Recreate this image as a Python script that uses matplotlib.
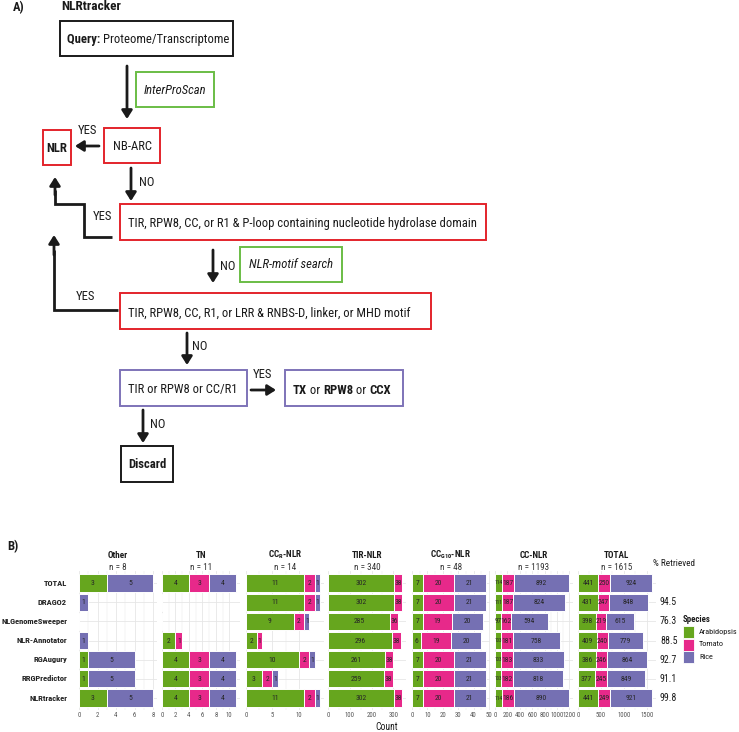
import matplotlib
matplotlib.use('Agg')
import matplotlib.pyplot as plt
from matplotlib.patches import Rectangle
from matplotlib import font_manager as fm
import numpy as np

available = {f.name for f in fm.fontManager.ttflist}
FONT = 'Liberation Sans'
for cand in ['Liberation Sans Narrow', 'Arial Narrow', 'Roboto Condensed', 'DejaVu Sans Condensed',
             'Open Sans Condensed', 'Liberation Sans']:
    if cand in available:
        FONT = cand
        break
plt.rcParams['font.family'] = [FONT, 'DejaVu Sans']
plt.rcParams['mathtext.fontset'] = 'custom'
plt.rcParams['mathtext.rm'] = FONT
plt.rcParams['mathtext.bf'] = FONT + ':bold'

# ---------------- data ----------------
tools = ['TOTAL', 'DRAGO2', 'NLGenomeSweeper', 'NLR-Annotator', 'RGAugury', 'RRGPredictor', 'NLRtracker']
species = ['Arabidopsis', 'Tomato', 'Rice']
species_colors = ['#66a61e', '#e7298a', '#7570b3']
class_labels = ['Other', 'TN', r'CC$_\mathbf{R}$-NLR', 'TIR-NLR', r'CC$_\mathbf{G10}$-NLR', 'CC-NLR', 'TOTAL']
class_n = [8, 11, 14, 340, 48, 1193, 1615]

# rows: tools ; columns: Arabidopsis, Tomato, Rice
other = [[3, 0, 5], [0, 0, 1], [0, 0, 0], [0, 0, 1], [1, 0, 5], [1, 0, 5], [3, 0, 5]]
tn = [[4, 3, 4], [0, 0, 0], [0, 0, 0], [2, 1, 0], [4, 3, 4], [4, 3, 4], [4, 3, 4]]
cc_r = [[11, 2, 1], [11, 2, 1], [9, 2, 1], [2, 1, 0], [10, 2, 1], [3, 2, 1], [11, 2, 1]]
tir = [[302, 38, 0], [302, 38, 0], [285, 36, 0], [296, 38, 0], [261, 38, 0], [259, 38, 0], [302, 38, 0]]
cc_g10 = [[7, 20, 21], [7, 20, 21], [7, 19, 20], [6, 19, 20], [7, 20, 21], [7, 20, 21], [7, 20, 21]]
cc = [[114, 187, 892], [111, 187, 824], [97, 162, 594], [103, 181, 758], [103, 183, 833], [103, 182, 818], [114, 186, 890]]
total = [[441, 250, 924], [431, 247, 848], [398, 219, 615], [409, 240, 779], [386, 246, 864], [377, 245, 849], [441, 249, 921]]
class_data = [other, tn, cc_r, tir, cc_g10, cc, total]
class_ticks = [[0, 2, 4, 6, 8], [0, 2, 4, 6, 8, 10], [0, 5, 10], [0, 100, 200, 300],
               [0, 10, 20, 30, 40, 50], [0, 200, 400, 600, 800, 1000, 1200], [0, 500, 1000, 1500]]
pct_retrieved = ['', '94.5', '76.3', '88.5', '92.7', '91.1', '99.8']

# ---------------- figure ----------------
W, H = 739, 732
fig = plt.figure(figsize=(W / 100, H / 100), dpi=100)
ax0 = fig.add_axes([0, 0, 1, 1])
ax0.set_xlim(0, W)
ax0.set_ylim(H, 0)
ax0.axis('off')
renderer = fig.canvas.get_renderer()

# calibrate text size on the long box text width (351 px in the reference)
LONG = 'TIR, RPW8, CC, or R1 & P-loop containing nucleotide hydrolase domain'
_t = ax0.text(0, 0, LONG, fontsize=9)
K = 351.0 / _t.get_window_extent(renderer).width
_t.remove()
FS = 9 * K

RED = '#e3242b'
GREEN = '#6abd45'
PURPLE = '#7e73b8'
INK = '#1a1a1a'


def text_width(s, fs, weight='normal'):
    t = ax0.text(0, 0, s, fontsize=fs, fontweight=weight)
    w = t.get_window_extent(renderer).width
    t.remove()
    return w


def box(x0, y0, x1, y1, color, lw=1.4):
    ax0.add_patch(Rectangle((x0, y0), x1 - x0, y1 - y0, fill=False, edgecolor=color, linewidth=lw))


def arrow(x0, y0, x1, y1):
    ax0.annotate('', xy=(x1, y1), xytext=(x0, y0),
                 arrowprops=dict(arrowstyle='-|>,head_length=0.55,head_width=0.35', lw=2.0,
                                 color=INK, shrinkA=0, shrinkB=0, mutation_scale=9))


def rich(x, y, parts, ha='left', fs=FS):
    texts, widths = [], []
    for t, w, st in parts:
        tt = ax0.text(0, y, t, fontsize=fs, fontweight=w, fontstyle=st, va='center', ha='left', color=INK)
        widths.append(tt.get_window_extent(renderer).width)
        texts.append(tt)
    start = x - sum(widths) / 2 if ha == 'center' else x
    for tt, wd in zip(texts, widths):
        tt.set_x(start)
        start += wd


# Panel A labels
ax0.text(13, 8, 'A)', fontsize=9 * K, fontweight='bold', va='center', ha='left', color=INK)
ax0.text(61, 6, 'NLRtracker', fontsize=9.5 * K, fontweight='bold', va='center', ha='left', color=INK)

# Query box
box(60, 21, 233, 56, INK)
rich(148, 39, [('Query: ', 'bold', 'normal'), ('Proteome/Transcriptome', 'normal', 'normal')], ha='center')
arrow(127, 66, 127, 119)
box(136, 72, 214, 107, GREEN)
ax0.text(175, 90, 'InterProScan', fontsize=FS, fontstyle='italic', ha='center', va='center', color=INK)

# NB-ARC / NLR
box(104, 128, 160, 163, RED)
ax0.text(132, 146, 'NB-ARC', fontsize=FS, ha='center', va='center', color=INK)
box(43, 130, 71, 165, RED)
ax0.text(57, 148, 'NLR', fontsize=FS, fontweight='bold', ha='center', va='center', color=INK)
arrow(99, 146, 75, 146)
ax0.text(87, 131, 'YES', fontsize=FS, ha='center', va='center', color=INK)
arrow(131, 168, 131, 201)
ax0.text(139, 183, 'NO', fontsize=FS, ha='left', va='center', color=INK)

# first domain box
box(120, 204, 486, 240, RED)
ax0.text(128, 224, LONG, fontsize=FS, ha='left', va='center', color=INK)
ax0.plot([112, 84, 84, 55, 55], [237, 237, 204, 204, 190], color=INK, lw=2.0,
         solid_joinstyle='miter', solid_capstyle='butt')
arrow(55, 195, 55, 177)
ax0.text(102, 217, 'YES', fontsize=FS, ha='center', va='center', color=INK)

arrow(213, 250, 213, 283)
ax0.text(220, 267, 'NO', fontsize=FS, ha='left', va='center', color=INK)
box(240, 247, 342, 282, GREEN)
ax0.text(291, 265, 'NLR-motif search', fontsize=FS, fontstyle='italic', ha='center', va='center', color=INK)

# second domain box
box(120, 293, 431, 329, RED)
ax0.text(128, 313, 'TIR, RPW8, CC, R1, or LRR & RNBS-D, linker, or MHD motif',
         fontsize=FS, ha='left', va='center', color=INK)
ax0.plot([118, 54, 54], [310, 310, 250], color=INK, lw=2.0, solid_joinstyle='miter', solid_capstyle='butt')
arrow(54, 255, 54, 235)
ax0.text(85, 297, 'YES', fontsize=FS, ha='center', va='center', color=INK)

arrow(187, 333, 187, 365)
ax0.text(192, 347, 'NO', fontsize=FS, ha='left', va='center', color=INK)

# purple boxes
box(120, 370, 247, 406, PURPLE)
ax0.text(128, 390, 'TIR or RPW8 or CC/R1', fontsize=FS, ha='left', va='center', color=INK)
arrow(251, 390, 276, 390)
ax0.text(262, 375, 'YES', fontsize=FS, ha='center', va='center', color=INK)
box(285, 370, 403, 406, PURPLE)
rich(293, 390, [('TX', 'bold', 'normal'), (' or ', 'normal', 'normal'), ('RPW8', 'bold', 'normal'),
                (' or ', 'normal', 'normal'), ('CCX', 'bold', 'normal')], ha='left')

arrow(143, 410, 143, 443)
ax0.text(150, 425, 'NO', fontsize=FS, ha='left', va='center', color=INK)
box(121, 446, 173, 482, INK)
ax0.text(147, 465, 'Discard', fontsize=FS, fontweight='bold', ha='center', va='center', color=INK)

# ---------------- Panel B ----------------
ax0.text(7, 547, 'B)', fontsize=9 * K, fontweight='bold', va='center', ha='left', color=INK)

row0 = 583.0
drow = 19.17
ylo, yhi = -0.6, 6.6
ptop = row0 + ylo * drow
ph = (yhi - ylo) * drow
panel_lefts = [79, 162, 246, 328, 412, 495, 578]
unit_w = 74.0
EXP = 1.05
pw = unit_w * EXP
GRID = '#e6e6e6'
BAR_FS = 5.4 * K

for i, (lab, n, data, ticks) in enumerate(zip(class_labels, class_n, class_data, class_ticks)):
    x0 = panel_lefts[i]
    ax = fig.add_axes([x0 / W, 1 - (ptop + ph) / H, pw / W, ph / H])
    ax.set_facecolor('none')
    arr = np.array(data)
    ypos = np.arange(len(tools))
    acc = np.zeros(len(tools))
    for s in range(len(species)):
        vals = arr[:, s]
        ax.barh(ypos, vals, left=acc, height=0.9, color=species_colors[s], edgecolor='white',
                linewidth=0.7, zorder=2)
        for y, v, l in zip(ypos, vals, acc):
            if v > 0:
                seg_px = v * unit_w / n
                lw_ = text_width(str(v), BAR_FS)
                fs = BAR_FS if lw_ <= seg_px + 1 else max(3.6 * K, BAR_FS * (seg_px + 1) / lw_)
                ax.text(l + v / 2, y, str(v), ha='center', va='center', fontsize=fs,
                        color='#262626', zorder=3)
        acc = acc + vals
    ax.set_xlim(0, n * EXP)
    ax.set_ylim(yhi, ylo)
    ax.set_xticks(ticks)
    mids = [(a + b) / 2 for a, b in zip(ticks[:-1], ticks[1:])]
    ax.set_xticks(mids, minor=True)
    ax.set_yticks(ypos)
    ax.set_yticklabels([])
    ax.grid(True, which='major', color=GRID, lw=0.6, zorder=0)
    ax.grid(True, which='minor', axis='x', color=GRID, lw=0.3, zorder=0)
    ax.set_axisbelow(True)
    ax.tick_params(axis='both', which='both', length=0, labelsize=4.8 * K, labelcolor='#555555', pad=1.5)
    for sp in ax.spines.values():
        sp.set_visible(False)
    cx = x0 + pw / 2
    ax0.text(cx, 555, lab, fontsize=6.5 * K, fontweight='bold', ha='center', va='center', color=INK)
    ax0.text(cx, 567, f'n = {n}', fontsize=6.5 * K, ha='center', va='center', color='#333333')

# row labels (fit within the left margin)
ROW_FS = 6.6 * K
wmax = max(text_width(t, ROW_FS, 'bold') for t in tools)
if wmax > 66:
    ROW_FS *= 66 / wmax
for j, t in enumerate(tools):
    ax0.text(67, row0 + j * drow, t, fontsize=ROW_FS, fontweight='bold', ha='right', va='center',
             color='#222222')

# % retrieved
ax0.text(674, 563, '% Retrieved', fontsize=6.5 * K, ha='center', va='center', color=INK)
for j, p in enumerate(pct_retrieved):
    if p:
        ax0.text(660, row0 + j * drow, p, fontsize=7.0 * K, ha='left', va='center', color=INK)

# legend
LEG_FS = 7.2 * K
wl = max(text_width(s, LEG_FS) for s in species)
if wl > 39.5:
    LEG_FS *= 39.5 / wl
ax0.text(683, 620, 'Species', fontsize=LEG_FS * 1.05, fontweight='bold', ha='left', va='center', color=INK)
for k, (sp_name, col) in enumerate(zip(species, species_colors)):
    yc = 632 + k * 12.5
    ax0.add_patch(Rectangle((683, yc - 6), 11, 12, facecolor=col, edgecolor='white', lw=0.6))
    ax0.text(699, yc, sp_name, fontsize=LEG_FS, ha='left', va='center', color=INK)

ax0.text(387, 727, 'Count', fontsize=6.8 * K, ha='center', va='center', color=INK)

fig.savefig('out.png', dpi=100)
